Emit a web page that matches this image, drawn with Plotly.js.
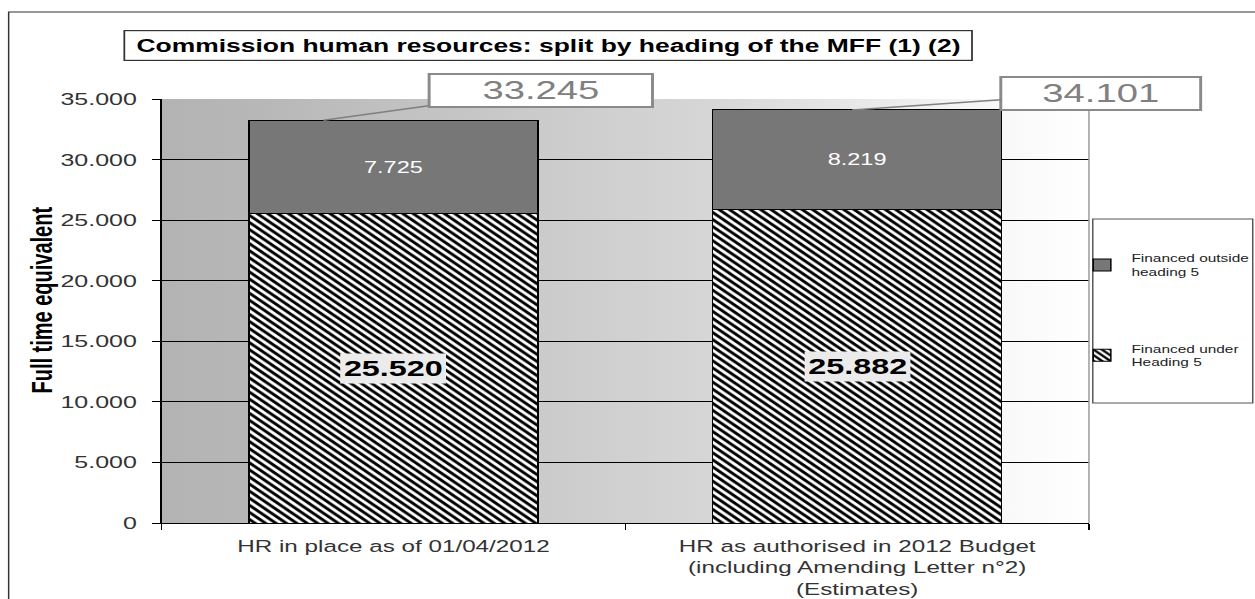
<!DOCTYPE html>
<html>
<head>
<meta charset="utf-8">
<script src="https://cdn.plot.ly/plotly-3.0.1.min.js"></script>
<style>
  html, body { margin: 0; padding: 0; background: #fff; overflow: hidden; }
  /* the chart is laid out on a narrower canvas and widened horizontally */
  #chart { width: 854px; height: 599px; transform: scaleX(1.4696); transform-origin: 0 0; }
</style>
</head>
<body>
<div id="chart"></div>
<script>
// Staff figures (full time equivalent)
const categories = [
  'HR in place as of 01/04/2012',
  'HR as authorised in 2012 Budget<br>(including Amending Letter n°2)<br>(Estimates)'
];
const underHeading5 = [25520, 25882];
const outsideHeading5 = [7725, 8219];
const seriesNames = ['Financed under<br>Heading 5', 'Financed outside<br>heading 5'];
const yTickVals = [0, 5000, 10000, 15000, 20000, 25000, 30000, 35000];
const chartTitle = 'Commission human resources: split by heading of the MFF (1) (2)';
const yTitle = 'Full time equivalent';

const totals = underHeading5.map((v, i) => v + outsideHeading5[i]);
const fmt = n => String(n).replace(/\B(?=(\d{3})+(?!\d))/g, '.');

const FONT = 'Liberation Sans, Arial, sans-serif';

// horizontal grey-to-white wash behind the plot area
const gradSvg =
  "<svg xmlns='http://www.w3.org/2000/svg' width='200' height='100' preserveAspectRatio='none'>" +
  "<defs><linearGradient id='g' x1='0' x2='1' y1='0' y2='0'>" +
  "<stop offset='0' stop-color='#b3b3b3'/>" +
  "<stop offset='0.1' stop-color='#b7b7b7'/>" +
  "<stop offset='0.41' stop-color='#cbcbcb'/>" +
  "<stop offset='0.59' stop-color='#d6d6d6'/>" +
  "<stop offset='0.9' stop-color='#f8f8f8'/>" +
  "<stop offset='1' stop-color='#ffffff'/>" +
  "</linearGradient></defs><rect width='200' height='100' fill='url(#g)'/></svg>";
const gradUri = 'data:image/svg+xml;charset=utf-8,' + encodeURIComponent(gradSvg);

const traces = [
  {
    type: 'bar',
    name: seriesNames[0],
    x: categories,
    y: underHeading5,
    legendgroup: 'under',
    legendrank: 2,
    marker: {
      color: '#ffffff',
      line: { color: '#000000', width: 1 },
      pattern: { shape: '\\', fgcolor: '#000000', bgcolor: '#ffffff', size: 5, solidity: 0.5, fillmode: 'replace' }
    },
    hoverinfo: 'skip'
  },
  {
    type: 'bar',
    name: seriesNames[1],
    x: categories,
    y: outsideHeading5,
    legendgroup: 'outside',
    legendrank: 1,
    marker: { color: '#777777', line: { color: '#000000', width: 1 } },
    texttemplate: '%{y:,.0f}',
    textposition: 'inside',
    insidetextanchor: 'middle',
    textangle: 0,
    textfont: { family: FONT, size: 16, color: '#ffffff' },
    hoverinfo: 'skip'
  }
];

const annotations = [];

// chart title in its framed box
annotations.push({
  xref: 'paper', yref: 'paper', x: 0.4163, y: 1.1262,
  xanchor: 'center', yanchor: 'middle',
  text: '<b>' + chartTitle + '</b>', showarrow: false,
  font: { family: FONT, size: 18, color: '#000000' },
  bordercolor: '#333333', borderwidth: 1.2, borderpad: 1,
  bgcolor: '#ffffff', width: 574, height: 27
});

// vertical axis title
annotations.push({
  xref: 'paper', yref: 'paper', x: -0.129, y: 0.526,
  xanchor: 'center', yanchor: 'middle', textangle: -90,
  text: '<b>' + yTitle + '</b>', showarrow: false,
  font: { family: FONT, size: 20, color: '#000000' }
});

// value of the lower segment, on a light plate
underHeading5.forEach((v, i) => {
  annotations.push({
    xref: 'x', yref: 'y', x: i, y: v / 2,
    text: '<b>' + fmt(v) + '</b>', showarrow: false,
    font: { family: FONT, size: 22, color: '#000000' },
    bgcolor: '#ebebeb', borderpad: 2
  });
});

// call-outs with the total of each bar
const tipOffset = [-0.151, -0.011];
const boxShift = [[147.6, -29.9], [169.5, -16.8]];
const boxWidth = [150, 134];
totals.forEach((t, i) => {
  annotations.push({
    xref: 'x', yref: 'y', x: i + tipOffset[i], y: t,
    text: fmt(t), showarrow: true, arrowhead: 0, arrowwidth: 1.5,
    arrowcolor: '#808080', standoff: 0, startstandoff: 0,
    ax: boxShift[i][0], ay: boxShift[i][1],
    font: { family: FONT, size: 26, color: '#808080' },
    bgcolor: '#ffffff', bordercolor: '#8a8a8a', borderwidth: 2, borderpad: 0,
    width: boxWidth[i], height: 31
  });
});

const shapes = [
  // outer chart frame
  { type: 'rect', xref: 'paper', yref: 'paper', x0: -0.165, x1: 1.3, y0: -0.5, y1: 1.2052,
    line: { color: '#333333', width: 1 }, fillcolor: 'rgba(0,0,0,0)', layer: 'below' },
  // right edge of the plot area
  { type: 'line', xref: 'paper', yref: 'paper', x0: 1, x1: 1, y0: 0, y1: 1,
    line: { color: '#999999', width: 1 } },
  // legend frame
  { type: 'rect', xref: 'paper', yref: 'paper', x0: 1.0041, x1: 1.1766, y0: 0.283, y1: 0.717,
    line: { color: '#555555', width: 1 }, fillcolor: '#ffffff' }
];

const layout = {
  width: 854, height: 599,
  margin: { l: 110, r: 113, t: 99, b: 76, autoexpand: false },
  paper_bgcolor: '#ffffff',
  plot_bgcolor: 'rgba(0,0,0,0)',
  separators: ',.',
  barmode: 'stack',
  bargap: 0.377,
  font: { family: FONT, color: '#333333' },
  images: [{
    source: gradUri, xref: 'paper', yref: 'paper', x: 0, y: 1,
    sizex: 1, sizey: 1, sizing: 'stretch', xanchor: 'left', yanchor: 'top', layer: 'below'
  }],
  xaxis: {
    type: 'category',
    range: [-0.5, categories.length - 0.5], autorange: false,
    showline: true, linecolor: '#000000', linewidth: 1,
    ticks: 'outside', tickson: 'boundaries', ticklen: 6, tickcolor: '#000000',
    showgrid: false, tickangle: 0, automargin: false,
    tickfont: { family: FONT, size: 16.5, color: '#333333' },
    ticklabelstandoff: 8
  },
  yaxis: {
    range: [0, 35000], autorange: false,
    tickvals: yTickVals,
    tickformat: ',.0f',
    showline: true, linecolor: '#000000', linewidth: 1,
    ticks: 'outside', ticklen: 5.5, tickcolor: '#000000',
    showgrid: true, gridcolor: '#000000', gridwidth: 1,
    zeroline: false, automargin: false,
    tickfont: { family: FONT, size: 17, color: '#333333' },
    ticklabelstandoff: 7
  },
  showlegend: true,
  legend: {
    x: 0.9824, y: 0.656, xanchor: 'left', yanchor: 'top',
    traceorder: 'grouped', tracegroupgap: 60,
    font: { family: FONT, size: 10.5, color: '#222222' },
    bgcolor: 'rgba(0,0,0,0)', borderwidth: 0
  },
  annotations: annotations,
  shapes: shapes
};

Plotly.newPlot('chart', traces, layout, { displayModeBar: false, staticPlot: true });
</script>
</body>
</html>
